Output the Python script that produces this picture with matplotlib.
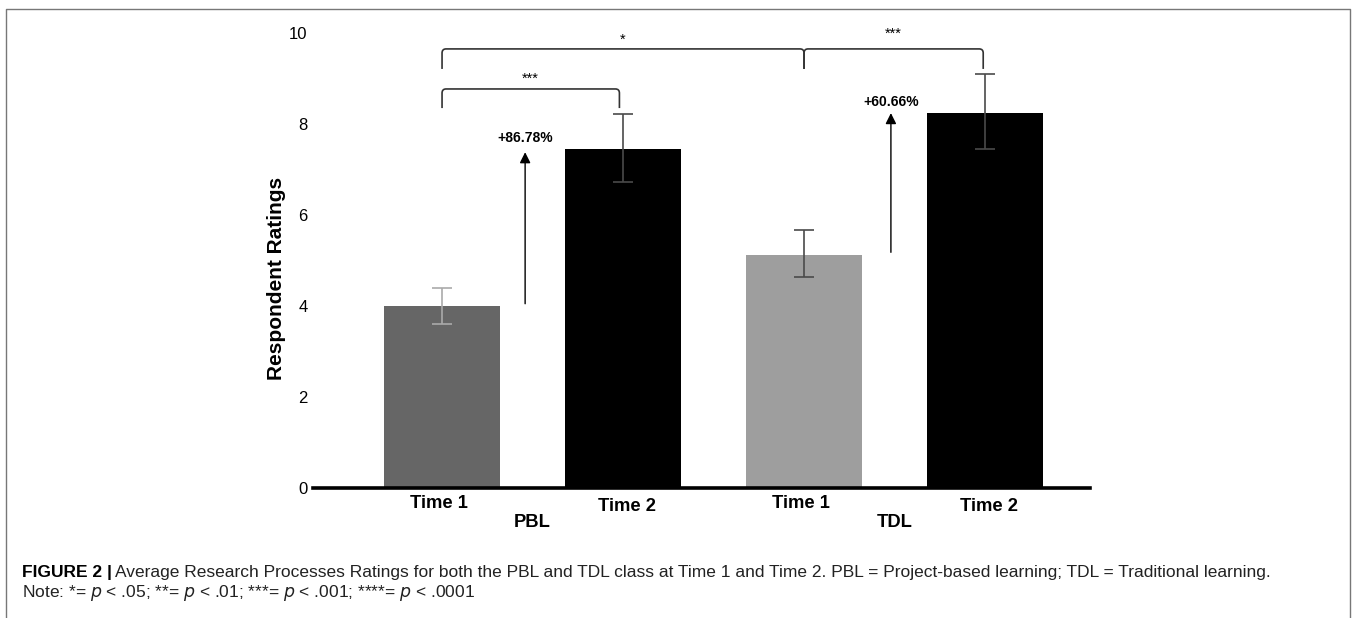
import matplotlib
matplotlib.use("Agg")
import matplotlib.pyplot as plt
from matplotlib.lines import Line2D
from matplotlib.path import Path
from matplotlib.patches import PathPatch

# ---- data ----
groups = ["PBL", "TDL"]
tick_labels = ["Time 1", "Time 2", "Time 1", "Time 2"]
means = [4.0, 7.45, 5.12, 8.24]
err_low = [0.40, 0.73, 0.49, 0.80]
err_high = [0.40, 0.77, 0.55, 0.86]
bar_colors = ["#666666", "#000000", "#9e9e9e", "#000000"]
err_colors = ["#aaaaaa", "#4a4a4a", "#4a4a4a", "#4a4a4a"]
pct_labels = ["+86.78%", "+60.66%"]
sig_labels = ["***", "*", "***"]
yticks = [0, 2, 4, 6, 8, 10]

W, H = 1356, 618
fig = plt.figure(figsize=(W / 100, H / 100), dpi=100)

# axes placed in pixel coords
x0, x1 = 313, 1090
y0, y1 = 488, 33  # pixel y for data 0 and 10
ax = fig.add_axes([x0 / W, 1 - y0 / H, (x1 - x0) / W, (y0 - y1) / H])

xs = list(range(len(means)))
ax.bar(xs, means, width=0.645, color=bar_colors, zorder=2)
for i in xs:
    ax.errorbar(xs[i], means[i], yerr=[[err_low[i]], [err_high[i]]], fmt="none",
                ecolor=err_colors[i], elinewidth=1.2, capsize=7.5, capthick=1.2, zorder=3)

ax.set_xlim(-0.713, 3.58)
ax.set_ylim(0, 10)
ax.set_yticks(yticks)
ax.set_yticklabels([str(t) for t in yticks], fontsize=12, family="Liberation Sans")
ax.tick_params(axis="y", length=0, pad=4)
ax.set_xticks([])
for sp in ["top", "right", "left"]:
    ax.spines[sp].set_visible(False)
ax.spines["bottom"].set_linewidth(2.6)
ax.spines["bottom"].set_color("black")

# x tick labels (Time 2 slightly lower)
for i, lab in enumerate(tick_labels):
    dy = -0.33 if i % 2 == 0 else -0.40
    dx = -0.017 if i % 2 == 0 else 0.02
    ax.text(xs[i] + dx, dy, lab, ha="center", va="center", fontsize=13.2,
            fontweight="bold", family="Liberation Sans", clip_on=False)
for g, gx in zip(groups, [0.50, 2.50]):
    ax.text(gx, -0.76, g, ha="center", va="center", fontsize=13.2,
            fontweight="bold", family="Liberation Sans", clip_on=False)

fig.text(277 / W, 1 - 278 / H, "Respondent Ratings", rotation=90, fontsize=15,
         fontweight="bold", family="Liberation Sans", ha="center", va="center")

# significance brackets with slightly rounded corners
lc = "#333333"
rx, ry = 0.022, 0.09
def bracket(xa, xb, yh, ytip, text, ty):
    verts = [(xa, ytip), (xa, yh - ry), (xa, yh), (xa + rx, yh),
             (xb - rx, yh), (xb, yh), (xb, yh - ry), (xb, ytip)]
    codes = [Path.MOVETO, Path.LINETO, Path.CURVE3, Path.CURVE3,
             Path.LINETO, Path.CURVE3, Path.CURVE3, Path.LINETO]
    ax.add_patch(PathPatch(Path(verts, codes), fill=False, edgecolor=lc, lw=1.2,
                           clip_on=False))
    ax.text((xa + xb) / 2, ty, text, ha="center", va="center", fontsize=10.5,
            family="Liberation Sans", clip_on=False)

bracket(0, 0.98, 8.77, 8.35, sig_labels[0], 8.99)
bracket(0, 2.0, 9.65, 9.21, sig_labels[1], 9.85)
bracket(2.0, 2.99, 9.65, 9.21, sig_labels[2], 9.99)

# arrows with percentage labels
arrows = [(0.459, 4.05, 7.38, 7.70), (2.48, 5.18, 8.24, 8.48)]
for (ax_x, ya, yb, yt), lab in zip(arrows, pct_labels):
    ax.annotate("", xy=(ax_x, yb), xytext=(ax_x, ya),
                arrowprops=dict(arrowstyle="-|>", color="black", lw=1.0,
                                mutation_scale=16, shrinkA=0, shrinkB=0),
                annotation_clip=False)
    ax.text(ax_x, yt, lab, ha="center", va="center", fontsize=10, fontweight="bold",
            family="Liberation Sans", clip_on=False)

# outer frame (open at bottom)
fc = "#777777"
fig.add_artist(Line2D([6 / W, 6 / W, 1350 / W, 1350 / W],
                      [0, 1 - 9 / H, 1 - 9 / H, 0], color=fc, lw=1.0,
                      transform=fig.transFigure))

# caption
cap_fs = 12.5
fig.text(22 / W, 1 - 573 / H, "FIGURE 2 |", fontsize=cap_fs, fontweight="bold",
         family="Liberation Sans", va="center", ha="left")
fig.text(115 / W, 1 - 573 / H,
         "Average Research Processes Ratings for both the PBL and TDL class at Time 1 and Time 2. "
         "PBL = Project-based learning; TDL = Traditional learning.",
         fontsize=cap_fs, family="Liberation Sans", va="center", ha="left", color="#222222")
fig.text(22 / W, 1 - 593 / H,
         r"Note: *= $p$ < .05; **= $p$ < .01; ***= $p$ < .001; ****= $p$ < .0001",
         fontsize=cap_fs, family="Liberation Sans", va="center", ha="left", color="#222222")

fig.savefig("out.png", dpi=100)
